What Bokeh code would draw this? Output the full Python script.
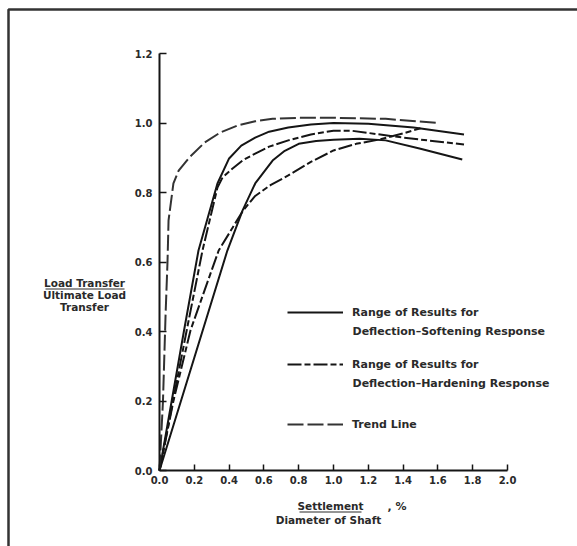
from bokeh.plotting import figure
from bokeh.models import (Range1d, FixedTicker, PrintfTickFormatter, Label, Arrow,
                          Legend, LegendItem, BoxAnnotation)
from bokeh.embed import file_html
from bokeh.resources import INLINE

# ---- data ----
x_ticks = [0.0, 0.2, 0.4, 0.6, 0.8, 1.0, 1.2, 1.4, 1.6, 1.8, 2.0]
y_ticks = [0.0, 0.2, 0.4, 0.6, 0.8, 1.0, 1.2]

soft_upper_x = [0, 0.14, 0.224, 0.333, 0.40, 0.47, 0.55, 0.63, 0.74, 0.87, 1.0, 1.2, 1.46, 1.75]
soft_upper_y = [0, 0.40, 0.633, 0.826, 0.898, 0.935, 0.958, 0.975, 0.987, 0.996, 1.0, 0.998, 0.987, 0.967]

soft_lower_x = [0, 0.39, 0.477, 0.55, 0.65, 0.72, 0.80, 0.90, 1.0, 1.15, 1.3, 1.5, 1.74]
soft_lower_y = [0, 0.633, 0.748, 0.826, 0.892, 0.92, 0.94, 0.948, 0.952, 0.955, 0.95, 0.926, 0.895]

hard_steep_x = [0, 0.155, 0.247, 0.333, 0.362, 0.42, 0.48, 0.55, 0.63, 0.74, 0.87, 1.0, 1.1, 1.4, 1.75]
hard_steep_y = [0, 0.40, 0.633, 0.814, 0.843, 0.869, 0.893, 0.912, 0.932, 0.95, 0.967, 0.978, 0.978, 0.958, 0.938]

hard_grad_x = [0, 0.08, 0.178, 0.26, 0.34, 0.48, 0.55, 0.64, 0.74, 0.87, 1.0, 1.13, 1.27, 1.4, 1.5]
hard_grad_y = [0, 0.20, 0.403, 0.52, 0.633, 0.748, 0.79, 0.822, 0.849, 0.888, 0.921, 0.94, 0.953, 0.97, 0.985]

trend_x = [0, 0.02, 0.035, 0.046, 0.052, 0.08, 0.11, 0.17, 0.26, 0.35, 0.45, 0.55, 0.65, 0.8, 1.0, 1.3, 1.6]
trend_y = [0, 0.20, 0.45, 0.60, 0.72, 0.826, 0.863, 0.90, 0.944, 0.973, 0.993, 1.005, 1.012, 1.015, 1.015, 1.012, 1.0]

legend_soft = "Range of Results for"
legend_soft2 = "Deflection\u2013Softening Response"
legend_hard = "Range of Results for"
legend_hard2 = "Deflection\u2013Hardening Response"
legend_trend = "Trend Line"

FONT = "DejaVu Sans"
INK = "#151515"
TXT = "#2a2a2a"

W, H = 577, 546
# page pixel -> data mapping (axis origin at px 159, py 470)
X0, SX = 159.0, 174.0
Y0, SY = 470.0, 347.5


def px_x(px):
    return (px - X0) / SX


def px_y(py):
    return (Y0 - py) / SY


p = figure(width=W, height=H, output_backend="svg", toolbar_location=None,
           x_range=Range1d(px_x(0), px_x(W)), y_range=Range1d(px_y(H), px_y(0)),
           min_border=0, background_fill_color="white",
           border_fill_color="white", outline_line_color=None)
p.xgrid.visible = False
p.ygrid.visible = False

for ax, ticks, bnds in ((p.xaxis[0], x_ticks, (0, 2.0)), (p.yaxis[0], y_ticks, (0, 1.2))):
    ax.fixed_location = 0
    ax.bounds = bnds
    ax.ticker = FixedTicker(ticks=ticks)
    ax.formatter = PrintfTickFormatter(format="%.1f")
    ax.axis_line_width = 2
    ax.axis_line_color = INK
    ax.major_tick_line_color = INK
    ax.major_tick_line_width = 1.5
    ax.major_tick_out = 0
    ax.minor_tick_line_color = None
    ax.major_label_text_font = FONT
    ax.major_label_text_font_size = "10px"
    ax.major_label_text_font_style = "bold"
    ax.major_label_text_color = TXT
p.xaxis[0].major_tick_in = 6
p.yaxis[0].major_tick_in = 7
p.xaxis[0].major_label_standoff = 5
p.yaxis[0].major_label_standoff = 7

# page border (left and top edges visible)
p.add_layout(BoxAnnotation(left=px_x(8), right=px_x(900), top=px_y(9), bottom=px_y(900),
                           fill_color=None, line_color="#333333", line_width=2.5,
                           line_alpha=1.0))

r_su = p.line(soft_upper_x, soft_upper_y, line_color=INK, line_width=2)
r_sl = p.line(soft_lower_x, soft_lower_y, line_color=INK, line_width=2)
r_hs = p.line(hard_steep_x, hard_steep_y, line_color=INK, line_width=2, line_dash="14 3 6 3")
r_hg = p.line(hard_grad_x, hard_grad_y, line_color=INK, line_width=2, line_dash="14 3 6 3")
r_tr = p.line(trend_x, trend_y, line_color="#333", line_width=2, line_dash="16 4")


def add_leg(label, rend, line_py):
    leg = Legend(items=[LegendItem(label=label, renderers=[rend])],
                 location=(287, H - line_py - 10),
                 padding=0, margin=0, spacing=0, glyph_width=56, glyph_height=20,
                 label_height=20, label_standoff=9, border_line_color=None,
                 background_fill_alpha=0, label_text_font=FONT,
                 label_text_font_size="11px", label_text_font_style="bold",
                 label_text_color=TXT)
    p.add_layout(leg)


add_leg(legend_soft, r_su, 312)
add_leg(legend_hard, r_hs, 364)
add_leg(legend_trend, r_tr, 424)


def lab(text, x, y, align="center", size="11px"):
    p.add_layout(Label(x=x, y=y, text=text, text_font=FONT, text_font_size=size,
                       text_font_style="bold", text_color=TXT, text_align=align,
                       text_baseline="middle"))


lab(legend_soft2, px_x(352), px_y(331), "left", size="11px")
lab(legend_hard2, px_x(352), px_y(383), "left", size="11px")

# y axis label (fraction)
lab("Load Transfer", px_x(84), px_y(282), size="10.5px")
lab("Ultimate Load", px_x(84), px_y(294), size="10.5px")
lab("Transfer", px_x(84), px_y(306), size="10.5px")
p.add_layout(Arrow(end=None, x_start=px_x(45), y_start=px_y(288.5), x_end=px_x(124),
                   y_end=px_y(288.5), line_color=TXT, line_width=1))

# x axis label (fraction)
lab("Settlement", px_x(330), px_y(505), size="10.5px")
lab("Diameter of Shaft", px_x(328), px_y(519), size="10.5px")
lab(",   %", px_x(387), px_y(506), "left", size="11px")
p.add_layout(Arrow(end=None, x_start=px_x(299), y_start=px_y(511.5), x_end=px_x(361),
                   y_end=px_y(511.5), line_color=TXT, line_width=1))

open("out.html", "w").write(file_html(p, INLINE))
